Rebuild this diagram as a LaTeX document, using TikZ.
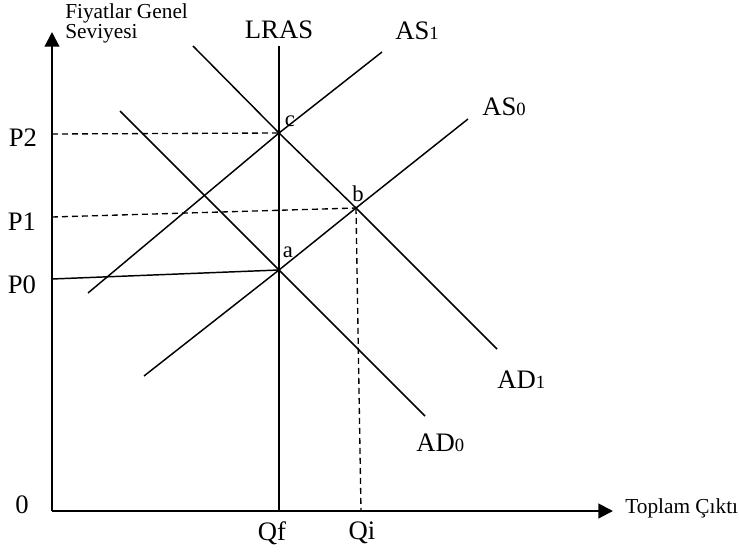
\documentclass[tikz,border=0pt]{standalone}
\usepackage{fontspec}
\setmainfont{Liberation Serif}
\usetikzlibrary{arrows.meta}
\begin{document}
\begin{tikzpicture}[x=0.75pt,y=-0.75pt,
  axisline/.style={line width=1.6pt,-{Triangle[length=11pt,width=11pt]}},
  curve/.style={line width=1.1pt},
  guide/.style={line width=1pt,dash pattern=on 4.5pt off 3pt},
  biglbl/.style={font=\fontsize{20}{22}\selectfont,inner sep=0pt},
  smalllbl/.style={font=\fontsize{16}{13.5}\selectfont,inner sep=0pt,align=left},
  ptlbl/.style={font=\fontsize{17}{18}\selectfont,inner sep=0pt}]
\useasboundingbox (0,0) rectangle (739,553);
\newcommand{\dg}[1]{{\fontsize{14}{16}\selectfont #1}}
% axes
\coordinate (O) at (52,511);
\coordinate (ytip) at (52,32);
\coordinate (xtip) at (613,511);
\draw[axisline] (O) -- (ytip);
\draw[axisline] (O) -- (xtip);
% key points
\coordinate (a) at (279,270);
\coordinate (b) at (356,208);
\coordinate (c) at (279,133);
% curve ends
\coordinate (lras1) at (279,46);
\coordinate (lras2) at (279,511);
\coordinate (ad0s) at (120,111);
\coordinate (ad0e) at (425,416);
\coordinate (ad1s) at (193,46);
\coordinate (ad1e) at (497,349);
\coordinate (as0s) at (144,376);
\coordinate (as0e) at (468,119);
\coordinate (as1s) at (88,293);
\coordinate (as1e) at (382,52);
\draw[curve] (lras1) -- (lras2);
\draw[curve] (ad0s) -- (a) -- (ad0e);
\draw[curve] (ad1s) -- (c) -- (b) -- (ad1e);
\draw[curve] (as0s) -- (a) -- (b) -- (as0e);
\draw[curve] (as1s) -- (c) -- (as1e);
% price level guides
\coordinate (p0) at (52,279);
\coordinate (p1) at (52,217);
\coordinate (p2) at (52,134);
\coordinate (qi) at (361,511);
\draw[curve] (p0) -- (a);
\draw[guide] (p1) -- (b);
\draw[guide] (p2) -- (c);
\draw[guide] (b) -- (qi);
% labels
\node[biglbl] (lP2) at (23,138) {P2};
\node[biglbl] (lP1) at (22,222) {P1};
\node[biglbl] (lP0) at (22,285) {P0};
\node[biglbl] (l0) at (22,505) {0};
\node[biglbl] (lQf) at (272,533) {Qf};
\node[biglbl] (lQi) at (362,533) {Qi};
\node[biglbl] (lLRAS) at (279,30) {LRAS};
\node[biglbl,anchor=west] (lAS1) at (395,31) {AS\dg{1}};
\node[biglbl,anchor=west] (lAS0) at (482,107) {AS\dg{0}};
\node[biglbl,anchor=west] (lAD1) at (497,380) {AD\dg{1}};
\node[biglbl,anchor=west] (lAD0) at (416,443) {AD\dg{0}};
\node[ptlbl] (lc) at (290,121) {c};
\node[ptlbl] (lb) at (358,194) {b};
\node[ptlbl] (la) at (288,252) {a};
\node[smalllbl,anchor=north west] (ylab) at (65,3) {Fiyatlar Genel\\Seviyesi};
\node[smalllbl,anchor=west] (xlab) at (625,508) {Toplam Çıktı};
\end{tikzpicture}
\end{document}
